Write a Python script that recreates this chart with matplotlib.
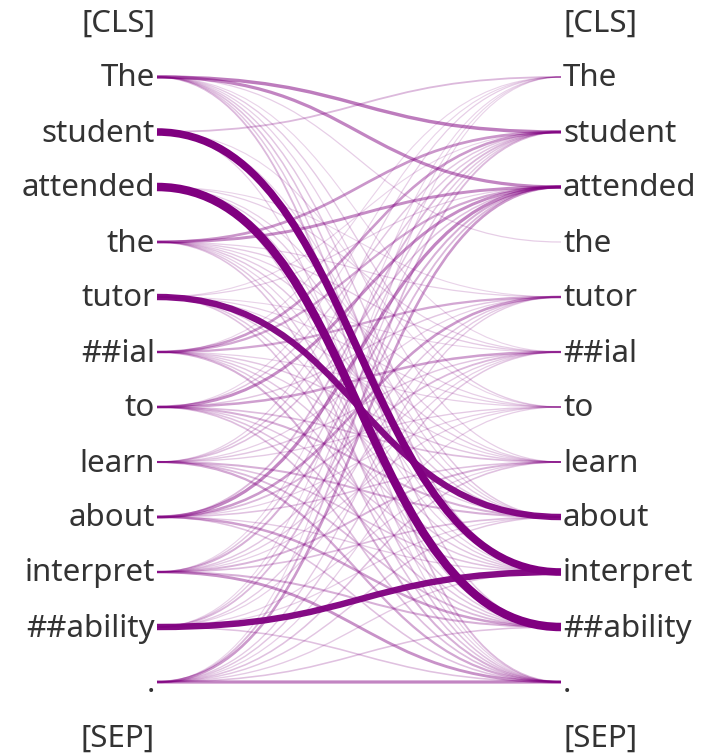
import matplotlib
matplotlib.use("Agg")
import matplotlib.pyplot as plt
import numpy as np
from matplotlib.path import Path
from matplotlib.patches import PathPatch

# ── tokens and attention weights (rows = source, cols = target) ──
tokens = ["[CLS]", "The", "student", "attended", "the", "tutor", "##ial",
          "to", "learn", "about", "interpret", "##ability", ".", "[SEP]"]
linked = tokens[1:-1]

att_the       = [0.00, 0.22, 0.20, 0.03, 0.00, 0.02, 0.04, 0.03, 0.05, 0.06, 0.05, 0.08]
att_student   = [0.08, 0.00, 0.00, 0.00, 0.00, 0.00, 0.02, 0.00, 0.03, 0.58, 0.00, 0.03]
att_attended  = [0.00, 0.00, 0.00, 0.00, 0.02, 0.03, 0.00, 0.03, 0.04, 0.03, 0.66, 0.03]
att_the_lc    = [0.00, 0.16, 0.18, 0.00, 0.03, 0.04, 0.03, 0.04, 0.05, 0.03, 0.05, 0.06]
att_tutor     = [0.00, 0.02, 0.03, 0.00, 0.00, 0.02, 0.03, 0.03, 0.48, 0.04, 0.05, 0.06]
att_ial       = [0.02, 0.15, 0.12, 0.00, 0.12, 0.00, 0.03, 0.05, 0.04, 0.05, 0.05, 0.10]
att_to        = [0.02, 0.05, 0.18, 0.00, 0.05, 0.14, 0.00, 0.07, 0.10, 0.05, 0.06, 0.07]
att_learn     = [0.03, 0.05, 0.06, 0.00, 0.03, 0.05, 0.04, 0.00, 0.10, 0.06, 0.08, 0.12]
att_about     = [0.00, 0.08, 0.20, 0.00, 0.15, 0.08, 0.03, 0.06, 0.00, 0.04, 0.14, 0.06]
att_interpret = [0.02, 0.05, 0.10, 0.00, 0.05, 0.04, 0.03, 0.09, 0.07, 0.00, 0.10, 0.17]
att_ability   = [0.02, 0.04, 0.08, 0.00, 0.04, 0.03, 0.00, 0.03, 0.03, 0.48, 0.00, 0.06]
att_period    = [0.02, 0.08, 0.15, 0.00, 0.04, 0.05, 0.03, 0.06, 0.05, 0.04, 0.06, 0.20]

attention = np.array([att_the, att_student, att_attended, att_the_lc, att_tutor,
                      att_ial, att_to, att_learn, att_about, att_interpret,
                      att_ability, att_period])

# ── canvas in pixel coordinates ──
W, H = 719, 754
fig = plt.figure(figsize=(W / 100, H / 100), dpi=100)
ax = fig.add_axes([0, 0, 1, 1])
ax.set_xlim(0, W)
ax.set_ylim(H, 0)
ax.axis("off")

X_LEFT, X_RIGHT = 157, 561
Y0, DY = 22, 55
TEXT_C = "#333333"
LINK_C = "#800080"
FONT = ["Noto Sans", "DejaVu Sans"]


def row_y(i):
    return Y0 + DY * i


# token labels on both sides
for i, tok in enumerate(tokens):
    y = row_y(i) + 1.5
    ax.text(X_LEFT - 2, y, tok, ha="right", va="center", fontsize=22.5,
            color=TEXT_C, family=FONT)
    ax.text(X_RIGHT + 2, y, tok, ha="left", va="center", fontsize=22.5,
            color=TEXT_C, family=FONT)

# attention links, weakest first so the heavy ones sit on top
xm = (X_LEFT + X_RIGHT) / 2
pairs = [(attention[s, t], s, t) for s in range(len(linked))
         for t in range(len(linked)) if attention[s, t] > 0]
pairs.sort()
for w, s, t in pairs:
    y1 = row_y(s + 1)
    y2 = row_y(t + 1)
    verts = [(X_LEFT, y1), (xm, y1), (xm, y2), (X_RIGHT, y2)]
    codes = [Path.MOVETO, Path.CURVE4, Path.CURVE4, Path.CURVE4]
    lw = (0.9 + 11.5 * w) * 0.72
    alpha = min(1.0, 0.14 + 1.7 * w)
    ax.add_patch(PathPatch(Path(verts, codes), facecolor="none",
                           edgecolor=LINK_C, lw=lw, alpha=alpha,
                           capstyle="butt", zorder=2))

fig.savefig("out.png", dpi=100, facecolor="white")
